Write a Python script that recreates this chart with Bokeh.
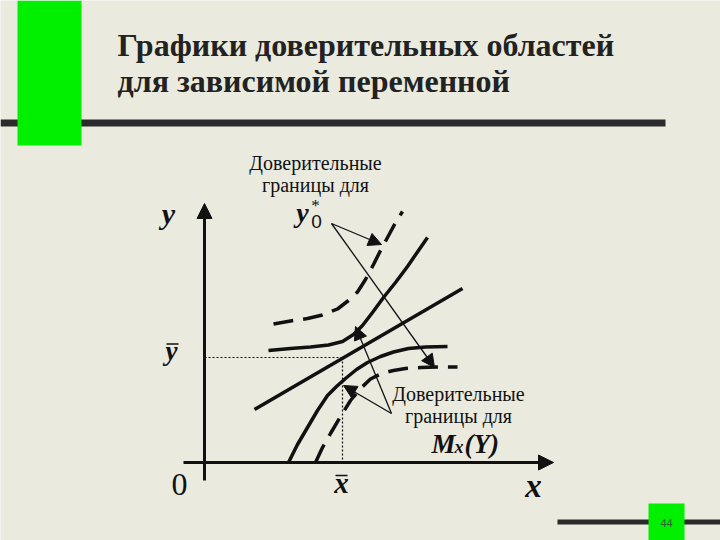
from bokeh.plotting import figure
from bokeh.models import Range1d, Arrow, NormalHead
from bokeh.core.properties import value
from bokeh.embed import file_html
from bokeh.resources import INLINE

# ---- texts ----
title_lines = ["Графики доверительных областей", "для зависимой переменной"]
top_note = ["Доверительные", "границы для"]
bottom_note = ["Доверительные", "границы для"]
page_number = "44"

# ---- diagram curves (diagram coordinates, y grows downward as in the slide) ----
reg_x = [254, 462]
reg_y = [409, 288]

upper_solid_x = [268, 290, 310, 328, 342, 353, 362, 372, 383, 395, 407, 418, 427]
upper_solid_y = [350, 348, 346.5, 344.5, 341, 334, 325, 312, 297, 282, 266, 250, 237]

lower_solid_x = [288, 297, 307, 317, 327, 336, 345, 356, 367, 380, 393, 408, 425, 447]
lower_solid_y = [462, 444, 427, 410, 395, 386, 378, 369, 362, 356, 351.5, 348, 346.5, 346]

upper_dash_x = [273, 290, 307, 322, 337, 348, 357, 365, 373, 380, 387, 394, 402]
upper_dash_y = [323.5, 320.5, 318, 314.5, 308.5, 300, 291.5, 279, 264, 250, 237, 224, 211]

lower_dash_x = [315, 322, 330, 340, 350, 360, 370, 381, 393, 405, 420, 440, 457]
lower_dash_y = [462, 447, 433, 416, 400, 388, 378.5, 373, 370, 368, 367, 366.5, 366.5]

# mean point (x-bar, y-bar) and axis origin
x_mean, y_mean = 342, 357
origin_x, origin_y = 204, 462

BG = "#eaeadf"
INK = "#111111"

p = figure(width=720, height=540, output_backend="svg", toolbar_location=None,
           x_range=Range1d(0, 720), y_range=Range1d(540, 0),
           min_border=0, background_fill_color=BG, border_fill_color=BG,
           outline_line_color=None)
p.axis.visible = False
p.grid.visible = False

# ---- slide decorations ----
p.quad(left=[0], right=[665], top=[119], bottom=[126], fill_color="#2b2b2b", line_color=None)
p.quad(left=[17], right=[81], top=[0], bottom=[145], fill_color="#00f000", line_color=None)
p.quad(left=[557], right=[720], top=[519], bottom=[524], fill_color="#2b2b2b", line_color=None)
p.quad(left=[648], right=[684], top=[503], bottom=[540], fill_color="#00f000", line_color=None)
p.text(x=[666], y=[522], text=[page_number], text_font=value("Liberation Sans"),
       text_font_size="11px", text_align="center", text_baseline="middle", text_color="#2f5f2f")

p.text(x=[117, 117], y=[44, 80], text=title_lines, text_font=value("Liberation Serif"),
       text_font_size="32px", text_font_style="bold", text_align="left",
       text_baseline="middle", text_color="#222222")

# ---- axes ----
p.add_layout(Arrow(x_start=origin_x, y_start=480, x_end=origin_x, y_end=203,
                   line_width=3, line_color=INK,
                   end=NormalHead(size=15, fill_color=INK, line_color=INK)))
p.add_layout(Arrow(x_start=183, y_start=origin_y, x_end=553, y_end=origin_y,
                   line_width=3, line_color=INK,
                   end=NormalHead(size=15, fill_color=INK, line_color=INK)))

# guide lines to mean point
p.line([origin_x, x_mean], [y_mean, y_mean], line_dash="2 2", line_width=1.2, line_color=INK)
p.line([x_mean, x_mean], [y_mean, origin_y], line_dash="2 2", line_width=1.2, line_color=INK)

# ---- curves ----
p.line(reg_x, reg_y, line_width=3.5, line_color=INK)
p.line(upper_solid_x, upper_solid_y, line_width=3.5, line_color=INK)
p.line(lower_solid_x, lower_solid_y, line_width=3.5, line_color=INK)
p.line(upper_dash_x, upper_dash_y, line_width=3.5, line_color=INK, line_dash="20 10")
p.line(lower_dash_x, lower_dash_y, line_width=3.5, line_color=INK, line_dash="20 10")

# ---- pointer arrows ----
def pointer(x0, y0, x1, y1):
    p.add_layout(Arrow(x_start=x0, y_start=y0, x_end=x1, y_end=y1, line_width=1.3,
                       line_color=INK, end=NormalHead(size=13, fill_color=INK, line_color=INK)))

pointer(331, 223, 381, 244)
pointer(331, 223, 434, 367)
pointer(391, 413, 355, 326)
pointer(391, 413, 343, 385)

# ---- labels ----
serif = value("Liberation Serif")
p.text(x=[315, 315], y=[162, 184], text=top_note, text_font=serif, text_font_size="20px",
       text_align="center", text_baseline="middle", text_color=INK)
p.text(x=[458, 458], y=[393, 415], text=bottom_note, text_font=serif, text_font_size="20px",
       text_align="center", text_baseline="middle", text_color=INK)

p.text(x=[431], y=[443], text=["M"], text_font=serif, text_font_size="27px",
       text_font_style="bold italic", text_baseline="middle", text_color=INK)
p.text(x=[454], y=[446], text=["x"], text_font=serif, text_font_size="18px",
       text_font_style="bold italic", text_baseline="middle", text_color=INK)
p.text(x=[464], y=[443], text=["(Y)"], text_font=serif, text_font_size="27px",
       text_font_style="bold italic", text_baseline="middle", text_color=INK)

p.text(x=[302], y=[212], text=["y"], text_font=serif, text_font_size="28px",
       text_font_style="bold italic", text_align="center", text_baseline="middle", text_color=INK)
p.text(x=[316], y=[221], text=["0"], text_font=value("Liberation Sans"), text_font_size="19px",
       text_align="center", text_baseline="middle", text_color=INK)
p.text(x=[315], y=[205], text=["*"], text_font=serif, text_font_size="17px",
       text_align="center", text_baseline="middle", text_color=INK)

p.text(x=[168], y=[213], text=["y"], text_font=serif, text_font_size="30px",
       text_font_style="bold italic", text_align="center", text_baseline="middle", text_color=INK)
p.text(x=[171], y=[350], text=["y"], text_font=serif, text_font_size="27px",
       text_font_style="bold italic", text_align="center", text_baseline="middle", text_color=INK)
p.line([166, 178], [343.5, 343.5], line_width=1.5, line_color=INK)
p.text(x=[179], y=[484], text=["0"], text_font=serif, text_font_size="32px",
       text_align="center", text_baseline="middle", text_color=INK)
p.text(x=[341], y=[482], text=["x"], text_font=serif, text_font_size="29px",
       text_font_style="bold italic", text_align="center", text_baseline="middle", text_color=INK)
p.line([335, 347], [475, 475], line_width=1.5, line_color=INK)
p.text(x=[533], y=[485], text=["x"], text_font=serif, text_font_size="33px",
       text_font_style="bold italic", text_align="center", text_baseline="middle", text_color=INK)

open("out.html", "w").write(file_html(p, INLINE))
